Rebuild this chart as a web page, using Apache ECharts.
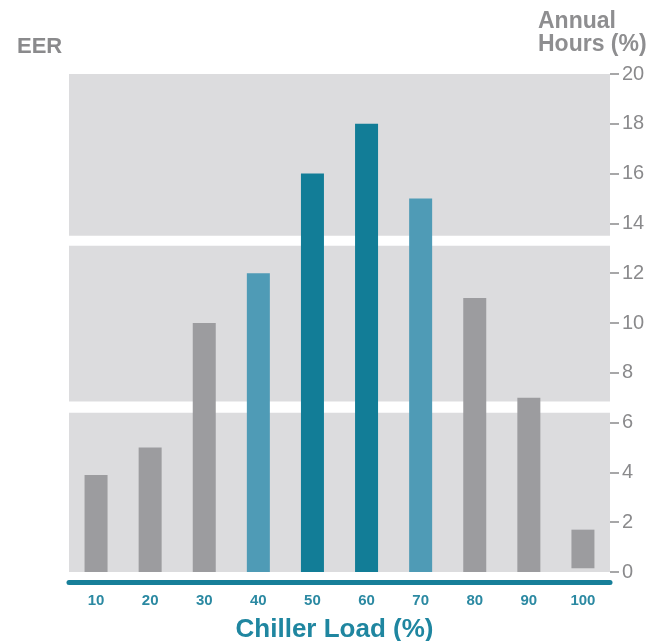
<!DOCTYPE html>
<html>
<head>
<meta charset="utf-8">
<script src="https://cdn.jsdelivr.net/npm/echarts@6/dist/echarts.min.js"></script>
<style>
  html, body { margin: 0; padding: 0; background: #ffffff; }
  #chart { width: 658px; height: 641px; }
</style>
</head>
<body>
<div id="chart"></div>
<script>
// Chiller load bins (%)
var loadLabels = ['10', '20', '30', '40', '50', '60', '70', '80', '90', '100'];
// Share of annual operating hours in each load bin (%)
var annualHours = [3.9, 5, 10, 12, 16, 18, 15, 11, 7, 1.7];
// Bottom of each bar (the 100% bin sits slightly above the baseline)
var barBase = [0, 0, 0, 0, 0, 0, 0, 0, 0, 0.15];
// Colour group per bin: 0 = grey, 1 = light teal, 2 = dark teal
var binGroup = [0, 0, 0, 1, 2, 2, 1, 0, 0, 0];
// Horizontal separators between EER zones (value ranges on the hours axis)
var zoneBreaks = [[13.1, 13.5], [6.4, 6.85]];
// Right-axis tick labels
var hourTicks = [0, 2, 4, 6, 8, 10, 12, 14, 16, 18, 20];

var groupColors = ['#9c9c9f', '#4f9bb6', '#127d97'];
var FONT = 'Liberation Sans, Arial, sans-serif';

var barData = annualHours.map(function (v, i) {
  return {
    value: +(v - barBase[i]).toFixed(2),
    itemStyle: { color: groupColors[binGroup[i]] }
  };
});

var chart = echarts.init(document.getElementById('chart'), null, { renderer: 'canvas' });

chart.setOption({
  animation: false,
  backgroundColor: '#ffffff',
  title: {
    text: 'EER',
    left: 12,
    top: 31,
    textStyle: {
      fontFamily: FONT,
      fontSize: 22,
      fontWeight: 'bold',
      color: '#8a8a8c'
    }
  },
  grid: {
    left: 69,
    right: 48,
    top: 74,
    bottom: 69,
    outerBoundsMode: 'none',
    containLabel: false,
    show: true,
    backgroundColor: '#dcdcde',
    borderWidth: 0
  },
  xAxis: {
    type: 'category',
    data: loadLabels,
    offset: 10,
    axisLine: { show: true, onZero: false, lineStyle: { color: '#177f99', width: 5 } },
    axisTick: { show: false },
    axisLabel: {
      margin: 11,
      fontFamily: FONT,
      fontSize: 15,
      fontWeight: 'bold',
      color: '#2b89a2'
    },
    name: 'Chiller Load (%)',
    nameLocation: 'middle',
    nameGap: 35,
    nameTextStyle: {
      padding: [0, 10, 0, 0],
      fontFamily: FONT,
      fontSize: 26,
      fontWeight: 'bold',
      color: '#1f86a0'
    }
  },
  yAxis: {
    type: 'value',
    position: 'right',
    min: 0,
    max: 20,
    interval: 2,
    splitLine: { show: false },
    axisLine: { show: false },
    axisTick: { show: true, length: 9, lineStyle: { color: '#8a8a8c', width: 1.5 } },
    axisLabel: {
      margin: 12,
      fontFamily: FONT,
      fontSize: 20,
      color: '#8a8a8c',
      formatter: function (v) { return hourTicks.indexOf(v) >= 0 ? String(v) : ''; }
    },
    name: 'Annual\nHours (%)',
    nameLocation: 'end',
    nameGap: 18,
    nameTextStyle: {
      align: 'left',
      padding: [0, 0, 0, -72],
      fontFamily: FONT,
      fontSize: 23,
      fontWeight: 'bold',
      lineHeight: 23,
      color: '#8e8e90'
    }
  },
  series: [
    {
      name: 'base',
      type: 'bar',
      stack: 'hours',
      z: 1,
      barWidth: 23,
      data: barBase,
      itemStyle: { color: 'rgba(0,0,0,0)' },
      silent: true,
      markArea: {
        silent: true,
        itemStyle: { color: '#ffffff' },
        data: zoneBreaks.map(function (r) {
          return [{ yAxis: r[0] }, { yAxis: r[1] }];
        })
      }
    },
    {
      name: 'Annual Hours',
      type: 'bar',
      stack: 'hours',
      z: 3,
      barWidth: 23,
      data: barData
    }
  ]
});
</script>
</body>
</html>
